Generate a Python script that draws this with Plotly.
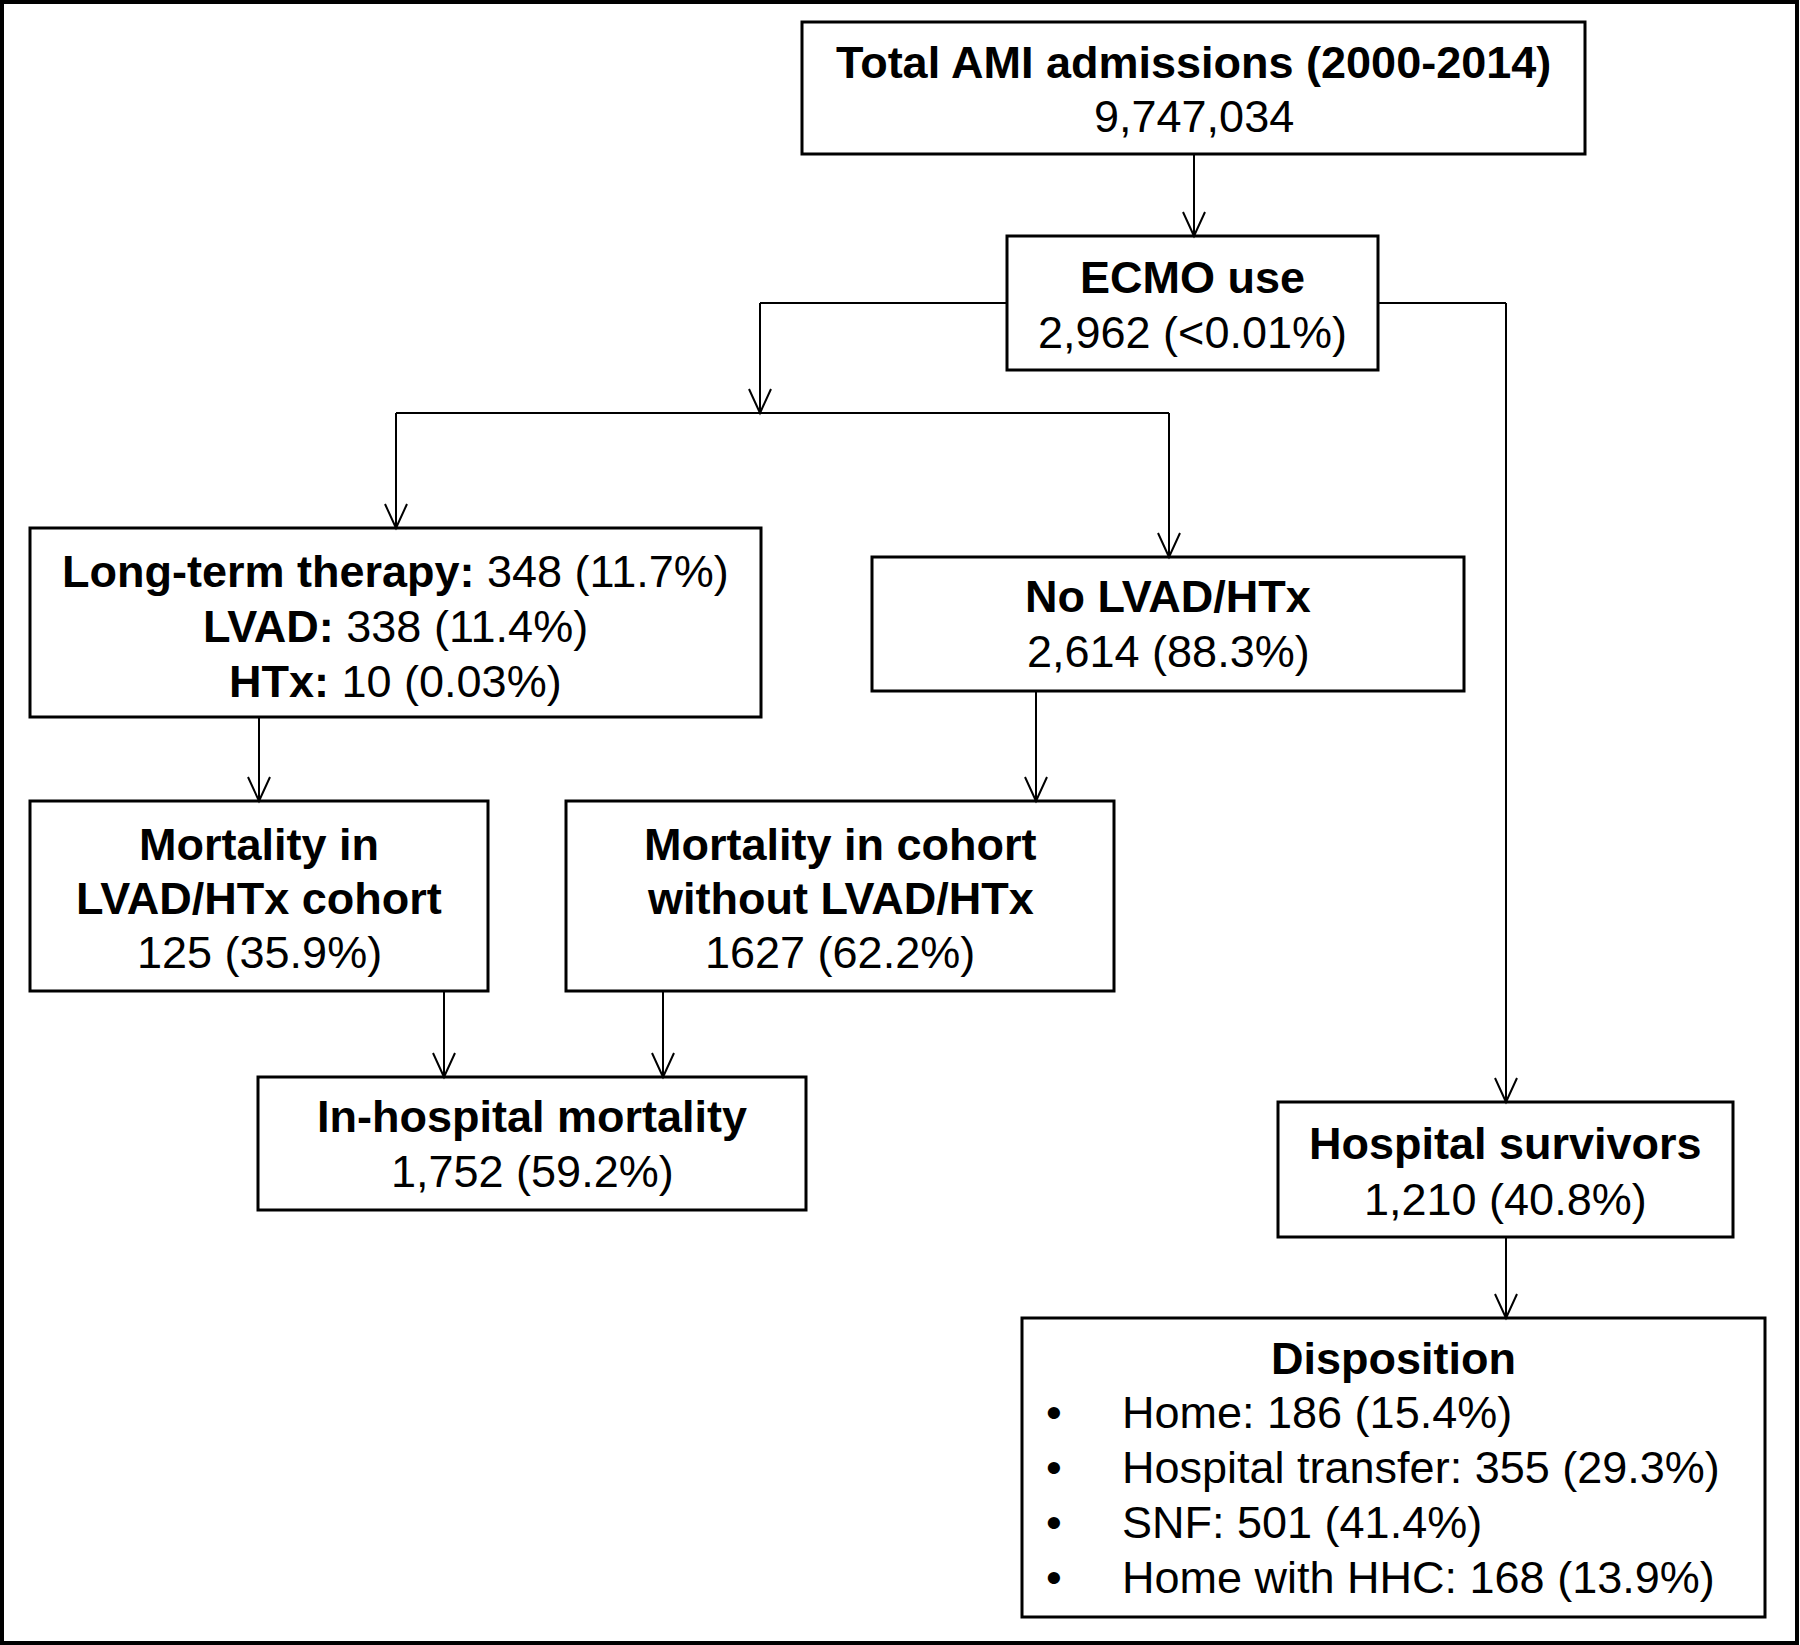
import plotly.graph_objects as go

W, H = 1800, 1645

# ---------------- data / texts ----------------
total_title = "Total AMI admissions (2000-2014)"
total_value = "9,747,034"
ecmo_title = "ECMO use"
ecmo_value = "2,962 (<0.01%)"
longterm_labels = ["Long-term therapy:", "LVAD:", "HTx:"]
longterm_values = ["348 (11.7%)", "338 (11.4%)", "10 (0.03%)"]
nolvad_title = "No LVAD/HTx"
nolvad_value = "2,614 (88.3%)"
mort_lvad_title = ["Mortality in", "LVAD/HTx cohort"]
mort_lvad_value = "125 (35.9%)"
mort_cohort_title = ["Mortality in cohort", "without LVAD/HTx"]
mort_cohort_value = "1627 (62.2%)"
inhosp_title = "In-hospital mortality"
inhosp_value = "1,752 (59.2%)"
surv_title = "Hospital survivors"
surv_value = "1,210 (40.8%)"
disp_title = "Disposition"
disp_categories = ["Home", "Hospital transfer", "SNF", "Home with HHC"]
disp_counts = [186, 355, 501, 168]
disp_percents = ["15.4", "29.3", "41.4", "13.9"]

# ---------------- layout geometry (pixels) ----------------
boxes = {
    "total": (802, 22, 1585, 154),
    "ecmo": (1007, 236, 1378, 370),
    "longterm": (30, 528, 761, 717),
    "nolvad": (872, 557, 1464, 691),
    "mort_lvad": (30, 801, 488, 991),
    "mort_cohort": (566, 801, 1114, 991),
    "inhosp": (258, 1077, 806, 1210),
    "surv": (1278, 1102, 1733, 1237),
    "disp": (1022, 1318, 1765, 1617),
}

FONT = "Liberation Sans, Arial, sans-serif"
FS = 45
BOX_LW = 3
LINE_LW = 2

shapes = []
annotations = []

# outer frame
shapes.append(dict(type="rect", x0=2, y0=2, x1=1797, y1=1643,
                   line=dict(color="black", width=4), layer="above"))

for name, (x0, y0, x1, y1) in boxes.items():
    shapes.append(dict(type="rect", x0=x0, y0=y0, x1=x1, y1=y1,
                       line=dict(color="black", width=BOX_LW),
                       fillcolor="white", layer="above"))


def seg(x0, y0, x1, y1):
    shapes.append(dict(type="line", x0=x0, y0=y0, x1=x1, y1=y1,
                       line=dict(color="black", width=LINE_LW), layer="above"))


def head(x, y, hw=11, hl=24):
    shapes.append(dict(type="path",
                       path=f"M {x-hw},{y-hl} L {x},{y} L {x+hw},{y-hl}",
                       line=dict(color="black", width=LINE_LW), layer="above"))


def arrow_down(x, y0, y1):
    seg(x, y0, x, y1)
    head(x, y1)


# connectors
arrow_down(1194, 154, 236)                    # total -> ecmo
seg(1007, 303, 760, 303)                      # ecmo left
arrow_down(760, 303, 413)
seg(396, 413, 1169, 413)                      # branch line
arrow_down(396, 413, 528)                     # -> long-term
arrow_down(1169, 413, 557)                    # -> no lvad
seg(1378, 303, 1506, 303)                     # ecmo right
arrow_down(1506, 303, 1102)                   # -> survivors
arrow_down(259, 717, 801)                     # long-term -> mort lvad
arrow_down(1036, 691, 801)                    # no lvad -> mort cohort
arrow_down(444, 991, 1077)                    # mort lvad -> inhosp
arrow_down(663, 991, 1077)                    # mort cohort -> inhosp
arrow_down(1506, 1237, 1318)                  # survivors -> disposition


def text(x, y, s, xanchor="center"):
    annotations.append(dict(x=x, y=y, text=s, showarrow=False,
                            xanchor=xanchor, yanchor="middle",
                            font=dict(family=FONT, size=FS, color="black")))


def cx(name):
    b = boxes[name]
    return (b[0] + b[2]) / 2

# box texts
text(cx("total"), 62, f"<b>{total_title}</b>")
text(cx("total"), 116, total_value)
text(cx("ecmo"), 277, f"<b>{ecmo_title}</b>")
text(cx("ecmo"), 332, ecmo_value)
for i, (lab, val) in enumerate(zip(longterm_labels, longterm_values)):
    text(cx("longterm"), 571 + 55 * i, f"<b>{lab}</b> {val}")
text(cx("nolvad"), 596, f"<b>{nolvad_title}</b>")
text(cx("nolvad"), 651, nolvad_value)
for i, t in enumerate(mort_lvad_title):
    text(cx("mort_lvad"), 844 + 54 * i, f"<b>{t}</b>")
text(cx("mort_lvad"), 952, mort_lvad_value)
for i, t in enumerate(mort_cohort_title):
    text(cx("mort_cohort"), 844 + 54 * i, f"<b>{t}</b>")
text(cx("mort_cohort"), 952, mort_cohort_value)
text(cx("inhosp"), 1116, f"<b>{inhosp_title}</b>")
text(cx("inhosp"), 1171, inhosp_value)
text(cx("surv"), 1143, f"<b>{surv_title}</b>")
text(cx("surv"), 1199, surv_value)
text(1393, 1358, f"<b>{disp_title}</b>")
for i, (c, n, p) in enumerate(zip(disp_categories, disp_counts, disp_percents)):
    yy = 1412 + 55 * i
    text(1054, yy, "\u2022")
    text(1120, yy, f"{c}: {n} ({p}%)", xanchor="left")

fig = go.Figure()
fig.add_trace(go.Scatter(x=[0, W], y=[0, H], mode="markers",
                         marker=dict(opacity=0), hoverinfo="skip",
                         showlegend=False))
fig.update_layout(
    width=W, height=H,
    margin=dict(l=0, r=0, t=0, b=0),
    paper_bgcolor="white", plot_bgcolor="white",
    xaxis=dict(range=[0, W], visible=False, fixedrange=True),
    yaxis=dict(range=[H, 0], visible=False, fixedrange=True),
    shapes=shapes, annotations=annotations,
    showlegend=False,
)
fig.write_html(
    "out.html",
    config={"displayModeBar": False},
    post_script="document.body.style.margin='0';document.body.style.overflow='hidden';",
)
